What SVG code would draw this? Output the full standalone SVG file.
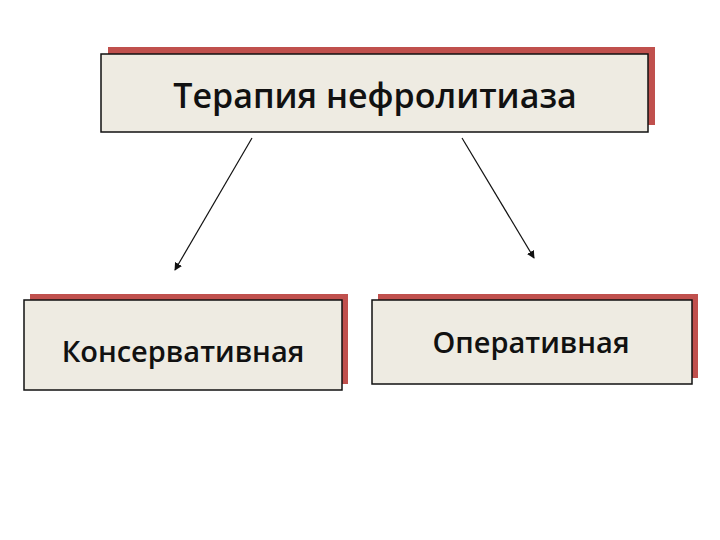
<svg xmlns="http://www.w3.org/2000/svg" width="720" height="540" viewBox="0 0 720 540">
<style>
.sh{fill:#c0504d}
.bx{fill:#eeebe2;stroke:#111;stroke-width:1.5}
.t{font-family:"Open Sans","Liberation Sans",Arial,sans-serif;font-weight:600;fill:#111;text-anchor:middle}
.c{stroke:#111;stroke-width:1.2;fill:none;marker-end:url(#a)}
</style>
<defs><marker id="a" markerWidth="8" markerHeight="8" refX="7" refY="4" orient="auto" markerUnits="userSpaceOnUse"><path d="M0,0 L8,4 L0,8 Z" fill="#111"/></marker></defs>
<rect width="720" height="540" fill="#fff"/>
<g id="top"><rect class="sh" x="108" y="47" width="547" height="78"/><rect class="bx" x="101" y="54" width="547" height="78"/><text class="t" x="375" y="108" font-size="34">Терапия нефролитиаза</text></g>
<g id="left"><rect class="sh" x="30" y="294" width="318" height="90"/><rect class="bx" x="24" y="300" width="318" height="90"/><text class="t" x="183" y="362" font-size="29">Консервативная</text></g>
<g id="right"><rect class="sh" x="378" y="294" width="320" height="84"/><rect class="bx" x="372" y="300" width="320" height="84"/><text class="t" x="531" y="353" font-size="29">Оперативная</text></g>
<g id="connectors"><line class="c" x1="252" y1="138" x2="175" y2="270"/><line class="c" x1="462" y1="138" x2="534" y2="258"/></g>
</svg>
